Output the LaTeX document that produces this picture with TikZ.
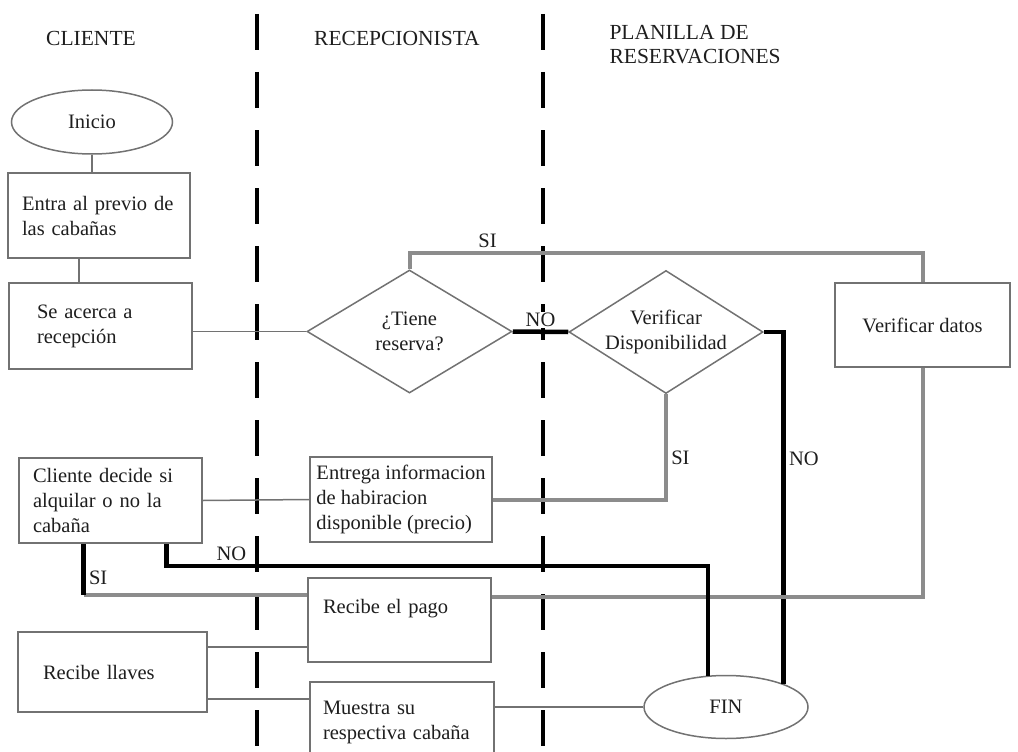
\documentclass[tikz,border=0pt]{standalone}
\usepackage{fontspec}
\setmainfont{Liberation Serif}
\usetikzlibrary{calc,shapes.geometric}
\definecolor{borde}{HTML}{727272}
\definecolor{linea}{HTML}{8C8C8C}
\definecolor{texto}{HTML}{1E1E1E}

\begin{document}
\begin{tikzpicture}[x=1pt,y=-1pt,font=\fontsize{20.5}{25}\selectfont,text=texto,
		caja/.style={draw=borde,line width=1.8pt,rectangle,align=left,minimum height=85pt,inner ysep=0pt},
		rombo/.style={draw=borde,line width=1.5pt,diamond,aspect=1.6,inner sep=0pt,align=center},
		elipse/.style={draw=borde,line width=1.5pt,ellipse,inner sep=0pt},
		titulo/.style={font=\fontsize{21.5}{24}\selectfont},
		fino/.style={draw=borde,line width=1.5pt},
		gris/.style={draw=linea,line width=4pt},
		negro/.style={draw=black,line width=4.5pt},
		carril/.style={draw=black,line width=4pt,dash pattern=on 36pt off 22pt}]
		\useasboundingbox (0,0) rectangle (1018,752);
		
		\draw[carril] (257,14) -- (257,760);
		\draw[carril] (543,14) -- (543,760);
		
		\node[titulo] (cliente) at (91,38) {CLIENTE};
		\node[titulo] (recep) at (397,38) {RECEPCIONISTA};
		\node[titulo,anchor=west,align=left] (planilla) at (606,45) {PLANILLA DE\\RESERVACIONES};
		
		\node[elipse,minimum width=161pt,minimum height=64pt] (inicio) at (92,122) {Inicio};
		\node[caja,inner xsep=14pt,text width=154pt] (entra) at (99,215.5) {Entra al previo de\\las cabañas};
		\node[caja,inner xsep=28pt,text width=127pt,minimum height=86pt] (acerca) at (100.5,326) {Se acerca a\\recepción};
		\node[rombo,minimum width=205pt,minimum height=123pt] (tiene) at (409.5,331.5) {¿Tiene\\reserva?};
		\node[rombo,minimum width=194pt,minimum height=123pt] (disp) at (666,332) {Verificar\\Disponibilidad};
		\node[caja,minimum width=175pt,minimum height=84pt] (datos) at (922.5,325) {Verificar datos};
		\node[caja,inner xsep=14pt,text width=155pt] (decide) at (110.5,500.5) {Cliente decide si\\alquilar o no la\\cabaña};
		\node[caja,minimum width=182pt] (entrega) at (401,499.5) {Entrega informacion\\de habiracion\\disponible (precio)};
		\node[caja,inner xsep=15pt,text width=153pt,minimum height=84pt,text depth=28pt] (pago) at (399.5,620) {Recibe el pago};
		\node[caja,inner xsep=25pt,text width=139pt,minimum height=80pt] (llaves) at (112.5,672) {Recibe llaves};
		\node[caja,inner xsep=13pt,text width=158pt,minimum height=80pt] (muestra) at (402,722) {Muestra su\\respectiva cabaña};
		\node[elipse,minimum width=164pt,minimum height=63pt] (fin) at (726,707) {FIN};
		
		\coordinate (s1) at ($(decide.south)+(-27,0)$);
		\coordinate (s2) at ($(pago.north west)+(0,18)$);
		\coordinate (l1) at ($(llaves.north east)+(0,16)$);
		\coordinate (l2) at ($(llaves.south east)+(0,-14)$);
		
		\draw[fino] (inicio.south) -- (inicio.south |- entra.north);
		\draw[fino] (entra.south) ++(-20,0) coordinate (e1) -- (e1 |- acerca.north);
		\draw[fino] (tiene.west) -- (tiene.west -| acerca.east);
		\draw[gris] (tiene.north) -- ++(0,-16) -| node[pos=0.076,above]{SI} (datos.north);
		\draw[negro] (tiene.east) -- node[above,fill=white,inner sep=1pt,yshift=2pt]{NO} (disp.west);
		\draw[negro] (disp.east) -| node[pos=0.68,right]{NO} (fin.22);
		\draw[gris] (disp.south) |- node[pos=0.3,right]{SI} (entrega.east);
		\draw[gris] (datos.south) |- ($(pago.north east)+(0,20)$);
		\draw[fino] (decide.east) -- (entrega.west);
		\draw[negro] ($(decide.south)+(56,0)$) -- ++(0,22) -| node[pos=0.06,above]{NO} (fin.120);
		\draw[gris] (s1 |- s2) -- (s2);
		\draw[negro] (s1) -- node[pos=0.66,right]{SI} (s1 |- s2);
		\draw[fino] (l1) -- (l1 -| pago.west);
		\draw[fino] (l2) -- (l2 -| muestra.west);
		\draw[fino] (fin.west) -- (fin.west -| muestra.east);
\end{tikzpicture}
\end{document}
